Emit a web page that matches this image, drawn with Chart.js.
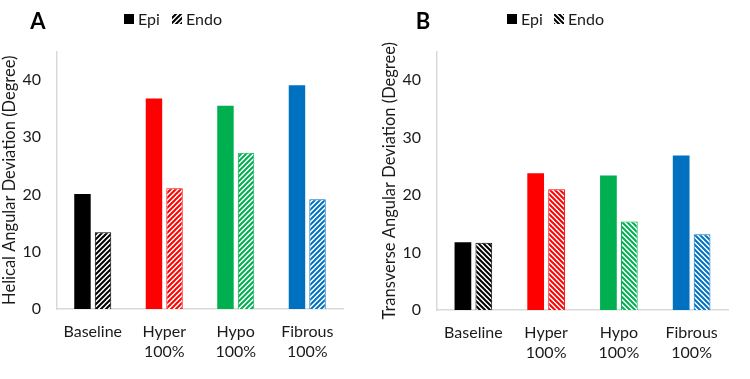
<!DOCTYPE html>
<html>
<head>
<meta charset="utf-8">
<script src="https://cdn.jsdelivr.net/npm/chart.js@4"></script>
<style>
html,body{margin:0;padding:0;background:#fff;}
#wrap{position:relative;width:750px;height:379px;}
#wrap canvas{position:absolute;top:0;}
</style>
</head>
<body>
<div id="wrap">
<canvas id="cA" width="375" height="379" style="left:0"></canvas>
<canvas id="cB" width="375" height="379" style="left:375px"></canvas>
</div>
<script>
// ---- data ----
const categories = [['Baseline'], ['Hyper', '100%'], ['Hypo', '100%'], ['Fibrous', '100%']];
const seriesNames = ['Epi', 'Endo'];
const helicalEpi = [20.1, 36.8, 35.5, 39.1];
const helicalEndo = [13.4, 21.1, 27.3, 19.2];
const transverseEpi = [11.8, 23.8, 23.4, 26.9];
const transverseEndo = [11.7, 21.0, 15.4, 13.2];
const yTickValues = [0, 10, 20, 30, 40];
const yMax = 45;
const panelLetters = ['A', 'B'];
const yTitles = ['Helical Angular Deviation (Degree)', 'Transverse Angular Deviation (Degree)'];
const groupColors = ['#000000', '#FF0000', '#00B050', '#0070C0'];

const FONT = 'Lato, "Open Sans", sans-serif';

function makeHatch(color, dir) {
  const s = 5;
  const c = document.createElement('canvas');
  c.width = s; c.height = s;
  const g = c.getContext('2d');
  g.fillStyle = '#ffffff';
  g.fillRect(0, 0, s, s);
  g.strokeStyle = color;
  g.lineWidth = 2;
  g.lineCap = 'square';
  g.beginPath();
  if (dir === '/') {
    g.moveTo(-1, 1); g.lineTo(1, -1);
    g.moveTo(0, s); g.lineTo(s, 0);
    g.moveTo(s - 1, s + 1); g.lineTo(s + 1, s - 1);
  } else {
    g.moveTo(-1, s - 1); g.lineTo(1, s + 1);
    g.moveTo(0, 0); g.lineTo(s, s);
    g.moveTo(s - 1, -1); g.lineTo(s + 1, 1);
  }
  g.stroke();
  return g.createPattern(c, 'repeat');
}

function legendPlugin(cfg) {
  return {
    id: 'panelLegend' + cfg.letter,
    afterDraw(chart) {
      const ctx = chart.ctx;
      ctx.save();
      ctx.fillStyle = '#000';
      ctx.font = 'bold 22px ' + FONT;
      ctx.textAlign = 'center';
      ctx.textBaseline = 'middle';
      ctx.fillText(cfg.letter, cfg.letterX, 22);
      ctx.font = '16px ' + FONT;
      ctx.textAlign = 'left';
      ctx.fillStyle = '#000';
      ctx.fillRect(cfg.sqX, 14, 10, 10);
      ctx.fillStyle = '#1a1a1a';
      ctx.fillText(seriesNames[0], cfg.sqX + 14, 19.5);
      ctx.fillStyle = makeHatch('#000000', cfg.dir);
      ctx.fillRect(cfg.hX, 14, 10, 10);
      ctx.fillStyle = '#1a1a1a';
      ctx.fillText(seriesNames[1], cfg.hX + 14, 19.5);
      ctx.restore();
    }
  };
}

function buildChart(id, epi, endo, cfg) {
  const ctx = document.getElementById(id).getContext('2d');
  return new Chart(ctx, {
    type: 'bar',
    data: {
      labels: categories,
      datasets: [
        {
          label: seriesNames[0],
          data: epi,
          backgroundColor: groupColors,
          borderColor: groupColors,
          borderWidth: 0,
          barPercentage: 0.8,
          categoryPercentage: 0.575
        },
        {
          label: seriesNames[1],
          data: endo,
          backgroundColor: groupColors.map(c => makeHatch(c, cfg.dir)),
          borderColor: groupColors,
          borderWidth: 1,
          barPercentage: 0.8,
          categoryPercentage: 0.575
        }
      ]
    },
    options: {
      responsive: false,
      animation: false,
      devicePixelRatio: 1,
      layout: { padding: { left: 0, right: cfg.padRight, top: 51.5, bottom: 0 } },
      plugins: { legend: { display: false }, tooltip: { enabled: false } },
      scales: {
        x: {
          grid: { display: false, drawTicks: false },
          border: { display: true, color: '#d9d9d9', width: 1.5 },
          ticks: { color: '#1a1a1a', font: { family: FONT, size: 16, lineHeight: 1.3 }, padding: 12, maxRotation: 0, autoSkip: false },
          afterFit(scale) { scale.height = cfg.xHeight; }
        },
        y: {
          min: 0,
          max: yMax,
          grid: { display: false, drawTicks: false },
          border: { display: true, color: '#d9d9d9', width: 1.5 },
          ticks: { color: '#1a1a1a', font: { family: FONT, size: 16 }, padding: 16, stepSize: 10 },
          afterBuildTicks(scale) { scale.ticks = yTickValues.map(v => ({ value: v })); },
          title: {
            display: true,
            text: cfg.title,
            color: '#1a1a1a',
            font: { family: FONT, size: 16.5 },
            padding: { top: cfg.titlePad, bottom: 0 }
          },
          afterFit(scale) { scale.width = cfg.yWidth; }
        }
      }
    },
    plugins: [legendPlugin(cfg)]
  });
}

buildChart('cA', helicalEpi, helicalEndo, {
  letter: panelLetters[0], letterX: 38, sqX: 124, hX: 172, dir: '/',
  title: yTitles[0], yWidth: 57, padRight: 32, xHeight: 70, titlePad: 0
});
buildChart('cB', transverseEpi, transverseEndo, {
  letter: panelLetters[1], letterX: 48, sqX: 132, hX: 179, dir: '\\',
  title: yTitles[1], yWidth: 62, padRight: 22, xHeight: 69, titlePad: 5
});
</script>
</body>
</html>
